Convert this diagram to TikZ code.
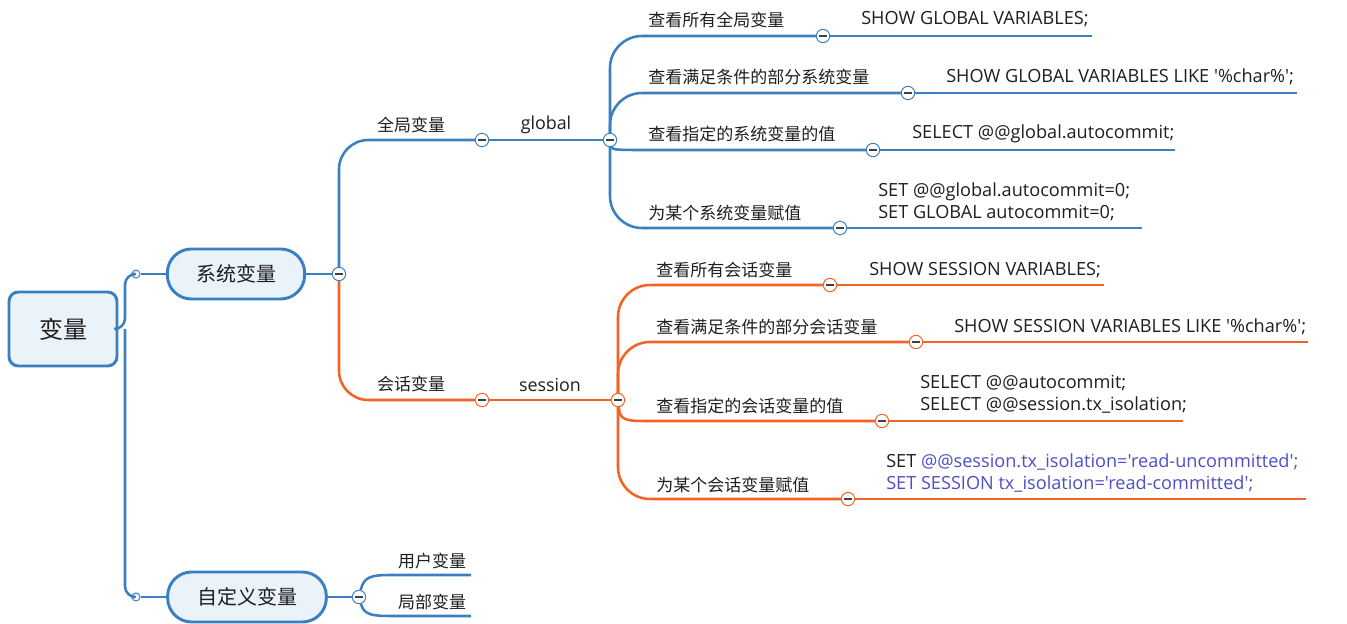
\documentclass[tikz,border=0pt]{standalone}
\usepackage{fontspec}
\setmainfont{Open Sans}[Ligatures=TeXOff]
\newfontfamily\cjk{Noto Sans CJK SC}
\definecolor{cb}{RGB}{58,128,193}
\definecolor{co}{RGB}{245,98,38}
\definecolor{cfill}{RGB}{234,242,250}
\definecolor{ctxt}{RGB}{30,30,30}
\definecolor{cpurp}{RGB}{78,78,200}
\begin{document}
\begin{tikzpicture}[x=0.75pt,y=-0.75pt,
  conb/.style={draw=cb,line width=1.9pt},
  cono/.style={draw=co,line width=1.9pt},
  minus/.style={circle,draw=#1,fill=white,line width=0.75pt,minimum size=10pt,inner sep=0pt,
    path picture={\draw[line width=0.8pt,black!75] ([xshift=-3pt]path picture bounding box.center) -- ([xshift=3pt]path picture bounding box.center);}},
  dot/.style={circle,draw=cb,fill=white,line width=0.75pt,minimum size=6pt,inner sep=0pt},
  topic/.style={draw=cb,fill=cfill,line width=2.2pt,rounded corners=18pt,minimum height=37.5pt,inner sep=0pt,
    font=\cjk\fontsize{15}{18}\selectfont,text=ctxt},
  rootbox/.style={draw=cb,fill=cfill,line width=2.2pt,rounded corners=7pt,minimum width=81pt,minimum height=55.5pt,
    inner sep=0pt,font=\cjk\fontsize{18}{21}\selectfont,text=ctxt},
  lbl/.style={font=\cjk\fontsize{12.75}{15}\selectfont,text=ctxt,inner sep=0pt},
  cmd/.style={font=\fontsize{13.6}{16.5}\selectfont,text=ctxt,inner sep=0pt,anchor=west,align=left},
]
\useasboundingbox (0,0) rectangle (1347,624);

% root and main topics
\node[rootbox] (R) at (63,329) {变量};
\coordinate (T) at (125,329);
\node[dot] (d1) at (136,274) {};
\node[dot] (d2) at (136,597) {};
\node[topic,minimum width=103pt] (S) at (236,274) {系统变量};
\node[topic,minimum width=119pt] (C) at (247,597) {自定义变量};
\draw[conb,rounded corners=8pt] (R.east) -- (T) |- (d1);
\draw[conb,rounded corners=8pt] (T) |- (d2);
\draw[conb] (d1) -- (S);
\draw[conb] (d2) -- (C);

% system variables
\node[minus=cb] (m1) at (339,274) {};
\draw[conb] (S) -- (m1);
\node[minus=cb] (m2) at (482,140) {};
\node[minus=cb] (g) at (610,140) {};
\node[minus=co] (m3) at (482,400) {};
\node[minus=co] (s) at (618,400) {};
\draw[conb,rounded corners=22pt] (m1) |- (m2);
\draw[conb] (m2) -- (g);
\draw[cono,rounded corners=22pt] (m1) |- (m3);
\draw[cono] (m3) -- (s);
\node[lbl] (l1) at (411,125) {全局变量};
\node[inner sep=0pt,font=\fontsize{13.4}{15}\selectfont,text=ctxt] (l2) at (546,125) {global};
\node[lbl] (l3) at (411,384) {会话变量};
\node[inner sep=0pt,font=\fontsize{13.4}{15}\selectfont,text=ctxt] (l4) at (550,385) {session};

% global branches
\node[minus=cb] (b1) at (823,36) {};
\node[minus=cb] (b2) at (908,93) {};
\node[minus=cb] (b3) at (873,150) {};
\node[minus=cb] (b4) at (840,228) {};
\coordinate (e1) at (1092,36);
\coordinate (e2) at (1297,93);
\coordinate (e3) at (1175,150);
\coordinate (e4) at (1142,228);
\draw[conb,rounded corners=24pt] (g) |- (b1);
\draw[conb,rounded corners=24pt] (g) |- (b2);
\draw[conb] (g) .. controls (612,150) and (620,150) .. (642,150) -- (b3);
\draw[conb,rounded corners=24pt] (g) |- (b4);
\draw[conb] (b1) -- (e1);
\draw[conb] (b2) -- (e2);
\draw[conb] (b3) -- (e3);
\draw[conb] (b4) -- (e4);
\node[lbl,anchor=west] (q1) at (648,20) {查看所有全局变量};
\node[lbl,anchor=west] (q2) at (648,77) {查看满足条件的部分系统变量};
\node[lbl,anchor=west] (q3) at (648,134) {查看指定的系统变量的值};
\node[lbl,anchor=west] (q4) at (648,213) {为某个系统变量赋值};
\node[cmd] (c1) at (861,19) {SHOW GLOBAL VARIABLES;};
\node[cmd] (c2) at (946,77) {SHOW GLOBAL VARIABLES LIKE '\%char\%';};
\node[cmd] (c3) at (912,134) {SELECT @@global.autocommit;};
\node[cmd] (c4) at (878,201.5) {SET @@global.autocommit=0;\\SET GLOBAL autocommit=0;};

% session branches
\node[minus=co] (r1) at (830,285) {};
\node[minus=co] (r2) at (916,342) {};
\node[minus=co] (r3) at (882,421) {};
\node[minus=co] (r4) at (848,499) {};
\coordinate (f1) at (1104,285);
\coordinate (f2) at (1308,342);
\coordinate (f3) at (1183,421);
\coordinate (f4) at (1306,499);
\draw[cono,rounded corners=24pt] (s) |- (r1);
\draw[cono,rounded corners=24pt] (s) |- (r2);
\draw[cono] (s) .. controls (620,421) and (626,421) .. (650,421) -- (r3);
\draw[cono,rounded corners=24pt] (s) |- (r4);
\draw[cono] (r1) -- (f1);
\draw[cono] (r2) -- (f2);
\draw[cono] (r3) -- (f3);
\draw[cono] (r4) -- (f4);
\node[lbl,anchor=west] (p1) at (656,270) {查看所有会话变量};
\node[lbl,anchor=west] (p2) at (656,327) {查看满足条件的部分会话变量};
\node[lbl,anchor=west] (p3) at (656,406) {查看指定的会话变量的值};
\node[lbl,anchor=west] (p4) at (656,485) {为某个会话变量赋值};
\node[cmd] (k1) at (869,270) {SHOW SESSION VARIABLES;};
\node[cmd] (k2) at (954,327) {SHOW SESSION VARIABLES LIKE '\%char\%';};
\node[cmd] (k3) at (920,394) {SELECT @@autocommit;\\SELECT @@session.tx\_isolation;};
\node[cmd] (k4) at (886,473) {SET \textcolor{cpurp}{@@session.tx\_isolation='read-uncommitted';}\\\textcolor{cpurp}{SET SESSION tx\_isolation='read-committed';}};

% custom variables
\node[minus=cb] (k) at (359,597) {};
\draw[conb] (C) -- (k);
\coordinate (u1) at (471,575);
\coordinate (u2) at (471,616);
\draw[conb] (k) .. controls (364,576) and (372,575) .. (392,575) -- (u1);
\draw[conb] (k) .. controls (364,615) and (372,616) .. (392,616) -- (u2);
\node[lbl] (v1) at (432,561) {用户变量};
\node[lbl] (v2) at (432,602) {局部变量};
\end{tikzpicture}
\end{document}
